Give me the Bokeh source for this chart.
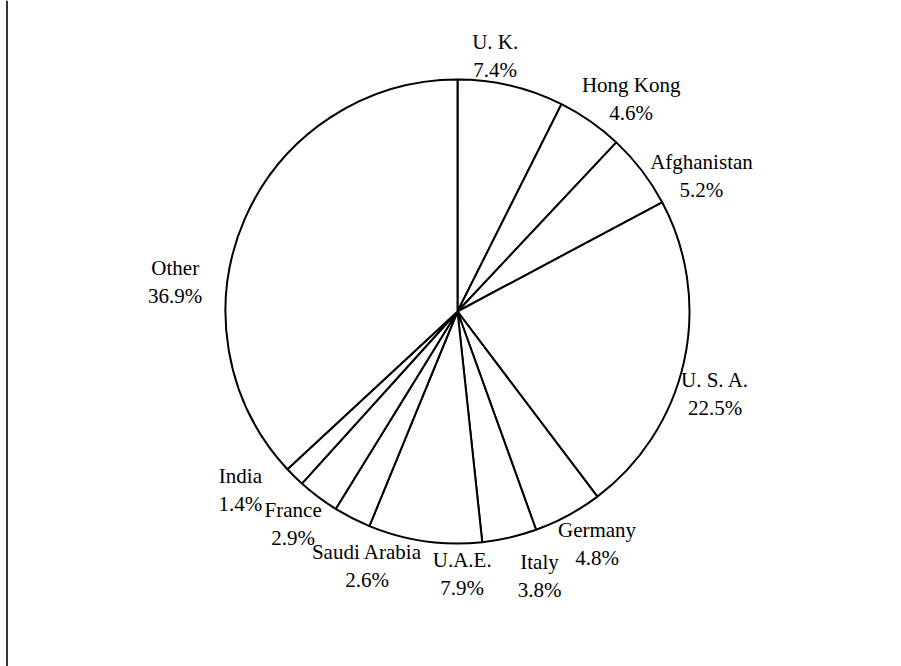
import math
from bokeh.plotting import figure
from bokeh.models import Range1d, ColumnDataSource, Span
from bokeh.core.properties import value
from bokeh.embed import file_html
from bokeh.resources import INLINE

# ---- data ----
countries = ["U. K.", "Hong Kong", "Afghanistan", "U. S. A.", "Germany", "Italy",
             "U.A.E.", "Saudi Arabia", "France", "India", "Other"]
shares = [7.4, 4.6, 5.2, 22.5, 4.8, 3.8, 7.9, 2.6, 2.9, 1.4, 36.9]

# ---- layout (pixels) ----
W, H = 893, 666          # figure size
CX, CY = 457, 311        # pie centre inside the figure
R_PX = 232               # pie radius
LABEL_GAP = 40           # default label distance beyond the rim
LINE_GAP = 28            # distance between the two label lines
TEXT_SHIFT = -6          # global vertical correction of labels (px, +down)
BORDER_X = 6.5           # left frame line
# per-label nudges of the first-line baseline (px, +x right, +y down)
nudge_x = [-25, 18, 28, -8, 10, 21, 43, 33, -1, -26, -33]
nudge_y = [1, 3, 22, 16, -15, -9, -15, 4, -13, -23, 71]

S = 1.0 / R_PX   # data units per pixel (pie radius = 1)

p = figure(width=W, height=H, output_backend="svg", toolbar_location=None,
           x_range=Range1d(-CX * S, (W - CX) * S),
           y_range=Range1d(-(H - CY) * S, CY * S),
           min_border=0)
p.axis.visible = False
p.grid.visible = False
p.outline_line_color = None
p.background_fill_color = "white"
p.border_fill_color = "white"

total = sum(shares)
starts, ends = [], []
lx1, ly1, lx2, ly2 = [], [], [], []
cum = 0.0
for i, v in enumerate(shares):
    a0 = math.pi / 2 - 2 * math.pi * cum / total
    a1 = math.pi / 2 - 2 * math.pi * (cum + v) / total
    starts.append(a0)
    ends.append(a1)
    mid = (a0 + a1) / 2
    r = 1 + LABEL_GAP * S
    x = r * math.cos(mid) + nudge_x[i] * S
    y = r * math.sin(mid) - (nudge_y[i] + TEXT_SHIFT) * S
    lx1.append(x); ly1.append(y)
    lx2.append(x); ly2.append(y - LINE_GAP * S)
    cum += v

src = ColumnDataSource(dict(start=starts, end=ends, name=countries,
                            pct=[f"{v:.1f}%" for v in shares],
                            x1=lx1, y1=ly1, x2=lx2, y2=ly2))

p.wedge(x=0, y=0, radius=1, start_angle="start", end_angle="end",
        direction="clock", source=src, fill_color="white",
        line_color="black", line_width=2)

font = value("Liberation Serif")
p.text(x="x1", y="y1", text="name", source=src, text_font=font,
       text_font_size="21px", text_align="center", text_baseline="alphabetic",
       text_color="black")
p.text(x="x2", y="y2", text="pct", source=src, text_font=font,
       text_font_size="21px", text_align="center", text_baseline="alphabetic",
       text_color="black")

p.add_layout(Span(location=(BORDER_X - CX) * S, dimension="height",
                  line_color="#333333", line_width=2))

open("out.html", "w").write(file_html(p, INLINE))
